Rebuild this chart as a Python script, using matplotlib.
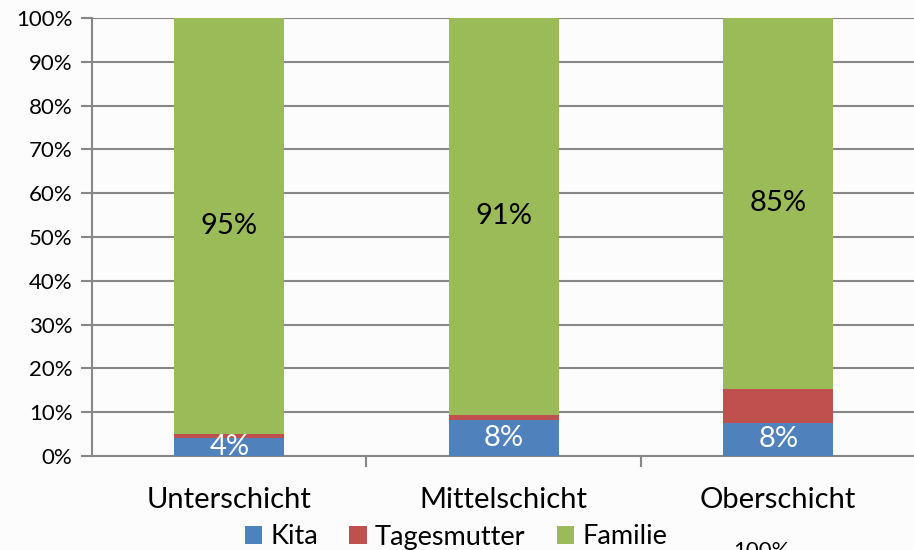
import matplotlib
matplotlib.use("Agg")
import matplotlib.pyplot as plt
import numpy as np

categories = ["Unterschicht", "Mittelschicht", "Oberschicht"]
series_names = ["Kita", "Tagesmutter", "Familie"]
kita = [4.2, 8.2, 7.6]
tagesmutter = [0.8, 1.2, 7.8]
familie = [95.0, 90.6, 84.6]
colors = ["#4F81BD", "#C0504D", "#9BBB59"]
yticks = [0, 10, 20, 30, 40, 50, 60, 70, 80, 90, 100]

plt.rcParams['font.family'] = ['Lato', 'DejaVu Sans']

W, H = 914, 550
fig = plt.figure(figsize=(W / 100, H / 100), dpi=100)
fig.patch.set_facecolor("#fcfcfc")
ax = fig.add_axes([92 / W, (H - 456) / H, 1 - 92 / W, (456 - 18) / H])
ax.set_facecolor("#fcfcfc")

x = np.arange(len(categories))
bw = 0.4
b1 = ax.bar(x, kita, bw, color=colors[0], label=series_names[0], zorder=3)
b2 = ax.bar(x, tagesmutter, bw, bottom=kita, color=colors[1], label=series_names[1], zorder=3)
bottom3 = np.array(kita) + np.array(tagesmutter)
b3 = ax.bar(x, familie, bw, bottom=bottom3, color=colors[2], label=series_names[2], zorder=3)

for i in range(len(categories)):
    ax.text(x[i], kita[i] / 2, f"{round(kita[i])}%", ha="center", va="center",
            color="white", fontsize=21, zorder=4, clip_on=True)
    ax.text(x[i], bottom3[i] + familie[i] / 2, f"{round(familie[i])}%", ha="center", va="center",
            color="black", fontsize=21, zorder=4)

ax.set_ylim(0, 100)
ax.set_xlim(-0.5, -0.5 + (W - 92) / 274.5)
ax.set_yticks(yticks)
ax.set_yticklabels([f"{v}%" for v in yticks], fontsize=16)
ax.yaxis.grid(True, color="#878787", linewidth=1.5, zorder=0)
ax.set_xticks(x)
ax.set_xticklabels(categories, fontsize=21)
ax.set_xticks([0.5, 1.5], minor=True)
ax.tick_params(axis="x", which="major", length=0, pad=22)
ax.tick_params(axis="x", which="minor", length=8, width=1.5, color="#878787")
ax.tick_params(axis="y", length=8, width=1.5, color="#878787", pad=6)
for s in ["top", "right"]:
    ax.spines[s].set_visible(False)
for s in ["left", "bottom"]:
    ax.spines[s].set_color("#878787")
    ax.spines[s].set_linewidth(1.5)

leg = fig.legend(handles=[b1, b2, b3], labels=series_names, loc="center",
                 bbox_to_anchor=(456 / W, (H - 537) / H), ncol=3, frameon=False,
                 fontsize=19.5, handlelength=0.65, handleheight=0.65, handletextpad=0.3,
                 columnspacing=1.15, borderaxespad=0, borderpad=0)

fig.text(733 / W, (H - 541) / H, "100%", fontsize=16, ha="left", va="top")

fig.savefig("out.png", dpi=100, facecolor=fig.get_facecolor())
